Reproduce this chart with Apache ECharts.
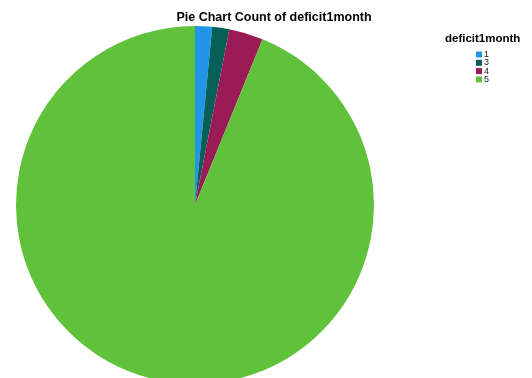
<!DOCTYPE html>
<html>
<head>
<meta charset="utf-8">
<script src="https://cdn.jsdelivr.net/npm/echarts@6/dist/echarts.min.js"></script>
<style>
  html, body { margin: 0; padding: 0; background: #fff; }
  #chart { width: 532px; height: 378px; }
</style>
</head>
<body>
<div id="chart"></div>
<script>
// deficit1month 各类计数
const categories = ['1', '3', '4', '5']
const counts = [1, 1, 2, 61]
const colors = ['#2196e6', '#075f5a', '#9b1b56', '#60c23b']

const font = '"Liberation Sans", Arial, sans-serif'

const chart = echarts.init(document.getElementById('chart'))

chart.setOption({
  backgroundColor: '#fff',
  animation: false,
  color: colors,
  title: [{
    text: 'Pie Chart Count of deficit1month',
    left: 269,
    textAlign: 'center',
    top: 6,
    textStyle: { fontFamily: font, fontSize: 12.5, fontWeight: 'bold', color: '#000' }
  }, {
    // 图例标题
    text: 'deficit1month',
    left: 440,
    top: 28,
    textStyle: { fontFamily: font, fontSize: 11.5, fontWeight: 'bold', color: '#000' }
  }],
  legend: {
    orient: 'vertical',
    left: 476,
    top: 50,
    padding: 0,
    itemWidth: 6,
    itemHeight: 6,
    itemGap: -0.7,
    icon: 'rect',
    textStyle: { fontFamily: font, fontSize: 9, color: '#222', padding: [0, 0, 0, -3] },
    data: categories
  },
  series: [{
    type: 'pie',
    center: [195, 205],
    radius: 179,
    startAngle: 90,
    clockwise: true,
    label: { show: false },
    labelLine: { show: false },
    emphasis: { disabled: true },
    itemStyle: { borderWidth: 0 },
    data: categories.map((c, i) => ({ name: c, value: counts[i] }))
  }]
})
</script>
</body>
</html>
